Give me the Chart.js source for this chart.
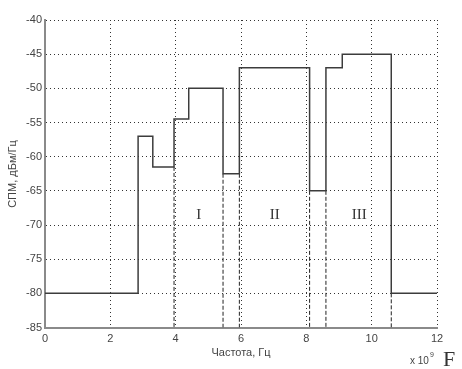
<!DOCTYPE html>
<html>
<head>
<meta charset="utf-8">
<script src="https://cdn.jsdelivr.net/npm/chart.js@4/dist/chart.umd.min.js"></script>
<style>
    html, body { margin: 0; padding: 0; background: #fff; }
    #wrap { width: 462px; height: 369px; position: relative; }
</style>
</head>
<body>
<div id="wrap"><canvas id="psdChart" width="462" height="369"></canvas></div>
<script>
// step edges of the spectrum (GHz) and level on each step (dBm/Hz)
const stepFreq = [0, 2.85, 3.3, 3.95, 4.4, 5.45, 5.95, 8.1, 8.6, 9.1, 10.6, 12];
const stepLevel = [-80, -57, -61.5, -54.5, -50, -62.5, -47, -65, -47, -45, -80, -80];

// dashed band boundaries, drawn from the step bottom to the axis
const boundaryFreq = [3.95, 5.45, 5.95, 8.1, 8.6, 10.6];
const boundaryTop = [-61.5, -62.5, -62.5, -65, -65, -80];

// band labels
const bandNames = ['I', 'II', 'III'];
const bandFreq = [4.71, 7.03, 9.62];
const bandLevel = [-68.6, -68.6, -68.6];

const xTicks = [0, 2, 4, 6, 8, 10, 12];
const yTicks = [-85, -80, -75, -70, -65, -60, -55, -50, -45, -40];

const SANS = '"Liberation Sans", Arial, sans-serif';
const SERIF = '"Liberation Serif", "Times New Roman", serif';

(function () {
    const canvas = document.getElementById('psdChart');
    const ctx = canvas.getContext('2d');

    // each level holds from its own edge up to the next one
    const stepPoints = stepFreq.map((f, i) => ({ x: f, y: stepLevel[i] }));

    const datasets = [
        {
            label: 'СПМ',
            data: stepPoints,
            stepped: 'before',
            borderColor: '#3c3c3c',
            borderWidth: 1.5,
            pointRadius: 0,
            fill: false,
        },
    ];

    boundaryFreq.forEach((f, i) => {
        datasets.push({
            label: 'boundary ' + i,
            data: [
                { x: f, y: boundaryTop[i] },
                { x: f, y: -85 },
            ],
            borderColor: '#222',
            borderWidth: 1,
            borderDash: [4, 2],
            pointRadius: 0,
            fill: false,
        });
    });

    // axis titles, band numerals and the exponent note
    const annotations = {
        id: 'annotations',
        afterDraw(chart) {
            const c = chart.ctx;
            const xs = chart.scales.x;
            const ys = chart.scales.y;
            c.save();

            c.fillStyle = '#333';
            c.font = '15px ' + SERIF;
            c.textAlign = 'center';
            c.textBaseline = 'middle';
            bandNames.forEach((name, i) => {
                c.fillText(
                    name,
                    xs.getPixelForValue(bandFreq[i]),
                    ys.getPixelForValue(bandLevel[i])
                );
            });

            c.fillStyle = '#444';
            c.font = '11px ' + SANS;
            c.fillText('Частота, Гц', 241, 353);

            c.save();
            c.translate(13, 174);
            c.rotate(-Math.PI / 2);
            c.fillText('СПМ, дБм/Гц', 0, 0);
            c.restore();

            c.textAlign = 'left';
            c.font = '10px ' + SANS;
            c.fillText('x 10', 410, 361);
            c.font = '7px ' + SANS;
            c.fillText('9', 430, 355);

            c.fillStyle = '#333';
            c.font = '22px ' + SERIF;
            c.fillText('F', 443, 360);

            c.restore();
        },
    };

    new Chart(ctx, {
        type: 'line',
        data: { datasets },
        options: {
            responsive: false,
            animation: false,
            layout: {
                padding: { top: 20, right: 25, bottom: 0, left: 0 },
            },
            plugins: {
                legend: { display: false },
                tooltip: { enabled: false },
            },
            scales: {
                x: {
                    type: 'linear',
                    min: 0,
                    max: 12,
                    afterBuildTicks(scale) {
                        scale.ticks = xTicks.map((v) => ({ value: v }));
                    },
                    afterFit(scale) {
                        scale.height = 41.5;
                    },
                    border: { color: '#8a8a8a', width: 2, dash: [1, 3] },
                    grid: {
                        color: '#333',
                        drawTicks: false,
                    },
                    ticks: {
                        color: '#444',
                        padding: 5,
                        font: { family: SANS, size: 11 },
                        maxRotation: 0,
                    },
                },
                y: {
                    type: 'linear',
                    min: -85,
                    max: -40,
                    afterBuildTicks(scale) {
                        scale.ticks = yTicks.map((v) => ({ value: v }));
                    },
                    afterFit(scale) {
                        scale.width = 45;
                    },
                    border: { color: '#8a8a8a', width: 2, dash: [1, 3] },
                    grid: {
                        color: '#333',
                        drawTicks: false,
                    },
                    ticks: {
                        color: '#444',
                        padding: 3,
                        font: { family: SANS, size: 11 },
                    },
                },
            },
        },
        plugins: [annotations],
    });
})();
</script>
</body>
</html>
